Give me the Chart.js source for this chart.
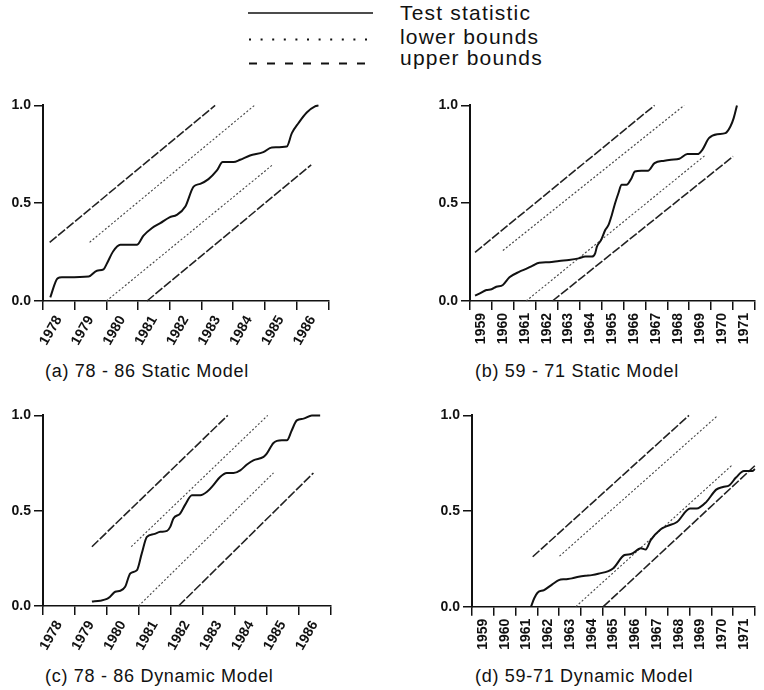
<!DOCTYPE html>
<html>
<head>
<meta charset="utf-8">
<script src="https://cdn.jsdelivr.net/npm/chart.js@4.4.1/dist/chart.umd.min.js"></script>
<style>
  body { margin: 0; background: #fff; }
  #page { position: relative; width: 764px; height: 690px; overflow: hidden;
          font-family: "Liberation Sans", Arial, sans-serif; color: #111; }
  canvas { position: absolute; }
  .cap { position: absolute; font-size: 18px; line-height: 18px; letter-spacing: 0.7px; white-space: nowrap; }
  .key { position: absolute; left: 400px; font-size: 21px; line-height: 21px; letter-spacing: 1.2px; white-space: nowrap; }
  #keyLines { position: absolute; left: 0; top: 0; }
</style>
</head>
<body>
<div id="page">
  <svg id="keyLines" width="764" height="80">
    <line x1="248" y1="13" x2="373" y2="13" stroke="#111" stroke-width="1.5"/>
    <line x1="249" y1="39.5" x2="373" y2="39.5" stroke="#111" stroke-width="2" stroke-dasharray="2 9.6"/>
    <line x1="249" y1="63.5" x2="373" y2="63.5" stroke="#111" stroke-width="2" stroke-dasharray="8 10"/>
  </svg>
  <div class="key" style="top:2px">Test statistic</div>
  <div class="key" style="top:26px">lower bounds</div>
  <div class="key" style="top:47px">upper bounds</div>

  <canvas id="panelA" width="345" height="262" style="left:0px;top:94px"></canvas>
  <canvas id="panelB" width="337" height="262" style="left:427px;top:94px"></canvas>
  <canvas id="panelC" width="345" height="262" style="left:0px;top:404px"></canvas>
  <canvas id="panelD" width="335" height="262" style="left:429px;top:404px"></canvas>

  <div class="cap" style="left:45px;top:362px">(a) 78 - 86 Static Model</div>
  <div class="cap" style="left:475px;top:362px">(b) 59 - 71 Static Model</div>
  <div class="cap" style="left:45px;top:667px">(c) 78 - 86 Dynamic Model</div>
  <div class="cap" style="left:475px;top:667px">(d) 59-71 Dynamic Model</div>
</div>

<script>
// year labels and y tick labels
const years78 = ["1978", "1979", "1980", "1981", "1982", "1983", "1984", "1985", "1986"];
const years59 = ["1959", "1960", "1961", "1962", "1963", "1964", "1965", "1966", "1967", "1968", "1969", "1970", "1971"];
const yLabels = ["0.0", "0.5", "1.0"];

// (a) 78 - 86 static model, [year, value]
const statA = [[1978.23, 0.019], [1978.46, 0.116], [1978.60, 0.121], [1979.44, 0.125], [1979.70, 0.155],
  [1979.91, 0.162], [1980.02, 0.193], [1980.21, 0.253], [1980.44, 0.287], [1980.96, 0.287], [1981.17, 0.334],
  [1981.43, 0.372], [1981.70, 0.398], [1981.99, 0.428], [1982.22, 0.440], [1982.49, 0.483], [1982.75, 0.585],
  [1982.96, 0.599], [1983.22, 0.623], [1983.48, 0.666], [1983.67, 0.710], [1984.01, 0.710], [1984.22, 0.722],
  [1984.53, 0.744], [1984.95, 0.761], [1985.22, 0.785], [1985.69, 0.790], [1985.85, 0.858], [1986.06, 0.910],
  [1986.32, 0.964], [1986.58, 0.995], [1986.69, 1.0]];
const upperHiA = [[1978.21, 0.30], [1983.43, 1.0]];
const lowerHiA = [[1979.47, 0.30], [1984.67, 1.0]];
const lowerLoA = [[1980.00, 0.0], [1985.22, 0.693]];
const upperLoA = [[1981.28, 0.0], [1986.46, 0.696]];

// (b) 59 - 71 static model
const statB = [[1959.23, 0.027], [1959.45, 0.039], [1959.75, 0.056], [1959.98, 0.060], [1960.20, 0.073],
  [1960.50, 0.082], [1960.80, 0.121], [1961.26, 0.150], [1961.56, 0.164], [1961.86, 0.181], [1962.16, 0.196],
  [1962.61, 0.198], [1963.06, 0.205], [1963.51, 0.210], [1963.96, 0.218], [1964.26, 0.227], [1964.56, 0.227],
  [1964.71, 0.244], [1964.79, 0.278], [1964.98, 0.312], [1965.17, 0.363], [1965.32, 0.389], [1965.47, 0.440],
  [1965.62, 0.500], [1965.77, 0.551], [1965.92, 0.594], [1966.14, 0.594], [1966.37, 0.628], [1966.52, 0.662],
  [1966.82, 0.666], [1967.12, 0.666], [1967.42, 0.705], [1967.87, 0.717], [1968.17, 0.722], [1968.55, 0.727],
  [1968.92, 0.751], [1969.38, 0.751], [1969.60, 0.773], [1969.90, 0.833], [1970.28, 0.853], [1970.65, 0.858],
  [1970.88, 0.892], [1971.03, 0.935], [1971.18, 1.0]];
const upperHiB = [[1959.23, 0.249], [1967.42, 1.0]];
const lowerHiB = [[1960.50, 0.258], [1968.77, 1.0]];
const lowerLoB = [[1961.56, 0.0], [1969.72, 0.744]];
const upperLoB = [[1962.76, 0.0], [1971.00, 0.739]];

// (c) 78 - 86 dynamic model
const statC = [[1979.53, 0.023], [1979.79, 0.028], [1980.00, 0.037], [1980.10, 0.049], [1980.26, 0.075],
  [1980.42, 0.080], [1980.57, 0.101], [1980.73, 0.171], [1980.94, 0.188], [1981.09, 0.276], [1981.25, 0.363],
  [1981.46, 0.377], [1981.67, 0.389], [1981.88, 0.394], [1981.98, 0.415], [1982.08, 0.459], [1982.29, 0.485],
  [1982.45, 0.532], [1982.66, 0.581], [1982.92, 0.581], [1983.13, 0.599], [1983.33, 0.634], [1983.54, 0.677],
  [1983.75, 0.698], [1983.96, 0.698], [1984.17, 0.712], [1984.38, 0.742], [1984.58, 0.764], [1984.90, 0.782],
  [1985.00, 0.799], [1985.21, 0.855], [1985.47, 0.869], [1985.63, 0.869], [1985.78, 0.921], [1985.94, 0.974],
  [1986.15, 0.983], [1986.41, 1.0], [1986.67, 1.0]];
const upperHiC = [[1979.53, 0.311], [1983.78, 1.0]];
const lowerHiC = [[1980.76, 0.311], [1985.03, 1.0]];
const lowerLoC = [[1980.99, 0.0], [1985.21, 0.698]];
const upperLoC = [[1982.24, 0.0], [1986.46, 0.698]];

// (d) 59-71 dynamic model (read up to the end of the axis)
const statD = [[1961.71, 0.0], [1961.86, 0.044], [1962.01, 0.073], [1962.31, 0.087], [1962.69, 0.117],
  [1962.99, 0.139], [1963.29, 0.144], [1963.59, 0.148], [1963.90, 0.157], [1964.20, 0.162], [1964.50, 0.165],
  [1964.80, 0.172], [1965.48, 0.200], [1966.01, 0.270], [1966.31, 0.275], [1966.76, 0.305], [1966.98, 0.299],
  [1967.21, 0.348], [1967.66, 0.404], [1967.96, 0.421], [1968.42, 0.443], [1969.02, 0.513], [1969.32, 0.513],
  [1969.77, 0.548], [1970.22, 0.612], [1970.53, 0.626], [1970.83, 0.635], [1971.13, 0.675], [1971.50, 0.709],
  [1971.88, 0.709], [1972.00, 0.720]];
const upperHiD = [[1961.79, 0.261], [1968.97, 1.0]];
const lowerHiD = [[1963.02, 0.264], [1970.30, 1.0]];
const lowerLoD = [[1963.77, 0.0], [1970.98, 0.743]];
const upperLoD = [[1965.03, 0.0], [1972.00, 0.737]];

const ink = "#111";

// dotted pair = lower bounds, dashed pair = upper bounds
function bound(data, dotted) {
    return {
        data: data,
        borderColor: dotted ? "#444" : "#222",
        borderWidth: dotted ? 1.1 : 1.6,
        borderDash: dotted ? [2, 2] : [9, 2],
        pointRadius: 0,
        clip: false
    };
}

function makePanel(id, years, stat, upperHi, lowerHi, lowerLo, upperLo, rot, xHeight, padRight) {
    const x0 = parseInt(years[0]);
    return new Chart(document.getElementById(id), {
        type: "line",
        data: {
            datasets: [
                { data: stat, borderColor: ink, borderWidth: 2, pointRadius: 0,
                  cubicInterpolationMode: "monotone", clip: false },
                bound(upperHi, false),
                bound(lowerHi, true),
                bound(lowerLo, true),
                bound(upperLo, false)
            ]
        },
        options: {
            responsive: false,
            animation: false,
            devicePixelRatio: 1,
            layout: { padding: { top: 10, right: padRight, left: 0, bottom: 0 } },
            plugins: { legend: { display: false }, tooltip: { enabled: false } },
            scales: {
                x: {
                    type: "linear",
                    min: x0,
                    max: x0 + years.length,
                    // labels sit mid-year, tick marks on the year boundaries
                    afterBuildTicks: (axis) => { axis.ticks = years.map((y, i) => ({ value: x0 + i + 0.5 })); },
                    afterFit: (axis) => { axis.height = xHeight; },
                    grid: { display: true, offset: true, drawOnChartArea: false, drawTicks: true, tickLength: 9,
                            color: ink, lineWidth: 1.5, tickColor: ink, tickWidth: 1.5 },
                    border: { display: true, color: ink, width: 1.5 },
                    ticks: {
                        autoSkip: false, minRotation: rot, maxRotation: rot, padding: 3,
                        color: ink, font: { family: "Liberation Sans", size: 14, weight: "bold" },
                        callback: (v, i) => years[i]
                    }
                },
                y: {
                    type: "linear",
                    min: 0,
                    max: 1,
                    afterFit: (axis) => { axis.width = 43; },
                    grid: { display: true, drawOnChartArea: false, drawTicks: true, tickLength: 9,
                            color: ink, lineWidth: 1.5, tickColor: ink, tickWidth: 1.5 },
                    border: { display: true, color: ink, width: 2 },
                    ticks: {
                        stepSize: 0.5, padding: 3, color: ink,
                        font: { family: "Liberation Sans", size: 14, weight: "bold" },
                        callback: (v, i) => yLabels[i]
                    }
                }
            }
        }
    });
}

const chartA = makePanel("panelA", years78, statA, upperHiA, lowerHiA, lowerLoA, upperLoA, 60, 55, 16.7);
const chartB = makePanel("panelB", years59, statB, upperHiB, lowerHiB, lowerLoB, upperLoB, 90, 55, 5.7);
const chartC = makePanel("panelC", years78, statC, upperHiC, lowerHiC, lowerLoC, upperLoC, 60, 60, 14.3);
const chartD = makePanel("panelD", years59, statD, upperHiD, lowerHiD, lowerLoD, upperLoD, 90, 59.3, 4.7);
</script>
</body>
</html>
